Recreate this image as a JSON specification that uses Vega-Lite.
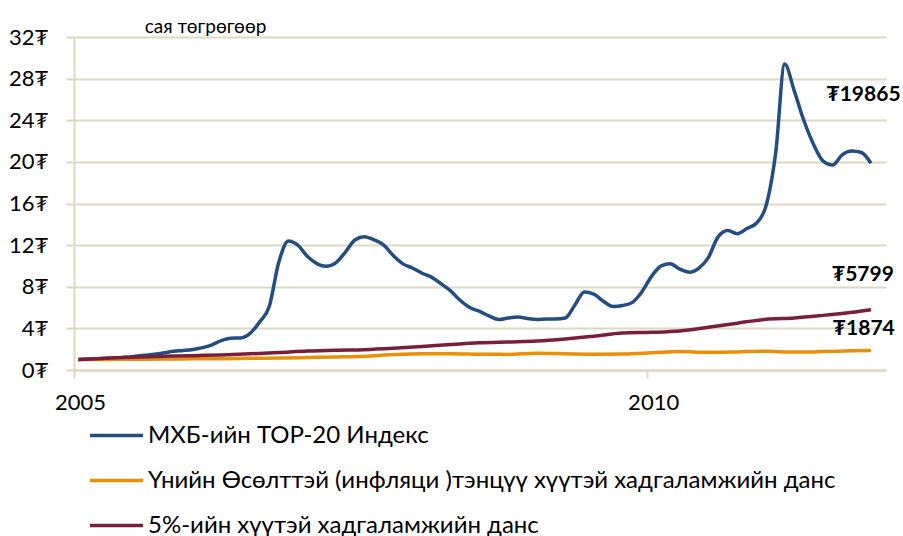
{
  "$schema": "https://vega.github.io/schema/vega-lite/v6.json",
  "width": 812,
  "height": 333,
  "autosize": {"type": "none"},
  "padding": {"left": 74, "top": 37, "right": 17, "bottom": 166},
  "background": "white",
  "config": {"view": {"stroke": null}, "font": "Lato"},
  "datasets": {
    "series": [
      {"date": "2005-01-15", "series": "МХБ-ийн ТОР-20 Индекс", "value": 1.0},
      {"date": "2005-02-15", "series": "МХБ-ийн ТОР-20 Индекс", "value": 1.05},
      {"date": "2005-03-15", "series": "МХБ-ийн ТОР-20 Индекс", "value": 1.08},
      {"date": "2005-04-15", "series": "МХБ-ийн ТОР-20 Индекс", "value": 1.12},
      {"date": "2005-05-15", "series": "МХБ-ийн ТОР-20 Индекс", "value": 1.15},
      {"date": "2005-06-15", "series": "МХБ-ийн ТОР-20 Индекс", "value": 1.22},
      {"date": "2005-07-15", "series": "МХБ-ийн ТОР-20 Индекс", "value": 1.32},
      {"date": "2005-08-15", "series": "МХБ-ийн ТОР-20 Индекс", "value": 1.42},
      {"date": "2005-09-15", "series": "МХБ-ийн ТОР-20 Индекс", "value": 1.52},
      {"date": "2005-10-15", "series": "МХБ-ийн ТОР-20 Индекс", "value": 1.65},
      {"date": "2005-11-15", "series": "МХБ-ийн ТОР-20 Индекс", "value": 1.8},
      {"date": "2005-12-15", "series": "МХБ-ийн ТОР-20 Индекс", "value": 1.88},
      {"date": "2006-01-15", "series": "МХБ-ийн ТОР-20 Индекс", "value": 1.98},
      {"date": "2006-02-15", "series": "МХБ-ийн ТОР-20 Индекс", "value": 2.15},
      {"date": "2006-03-15", "series": "МХБ-ийн ТОР-20 Индекс", "value": 2.4},
      {"date": "2006-04-15", "series": "МХБ-ийн ТОР-20 Индекс", "value": 2.82},
      {"date": "2006-05-15", "series": "МХБ-ийн ТОР-20 Индекс", "value": 3.05},
      {"date": "2006-06-15", "series": "МХБ-ийн ТОР-20 Индекс", "value": 3.08},
      {"date": "2006-07-15", "series": "МХБ-ийн ТОР-20 Индекс", "value": 3.5},
      {"date": "2006-08-15", "series": "МХБ-ийн ТОР-20 Индекс", "value": 4.6},
      {"date": "2006-09-15", "series": "МХБ-ийн ТОР-20 Индекс", "value": 6.1},
      {"date": "2006-10-15", "series": "МХБ-ийн ТОР-20 Индекс", "value": 10.3},
      {"date": "2006-11-15", "series": "МХБ-ийн ТОР-20 Индекс", "value": 12.4},
      {"date": "2006-12-15", "series": "МХБ-ийн ТОР-20 Индекс", "value": 12.0},
      {"date": "2007-01-15", "series": "МХБ-ийн ТОР-20 Индекс", "value": 10.9},
      {"date": "2007-02-15", "series": "МХБ-ийн ТОР-20 Индекс", "value": 10.2},
      {"date": "2007-03-15", "series": "МХБ-ийн ТОР-20 Индекс", "value": 9.97},
      {"date": "2007-04-15", "series": "МХБ-ийн ТОР-20 Индекс", "value": 10.3},
      {"date": "2007-05-15", "series": "МХБ-ийн ТОР-20 Индекс", "value": 11.3},
      {"date": "2007-06-15", "series": "МХБ-ийн ТОР-20 Индекс", "value": 12.5},
      {"date": "2007-07-15", "series": "МХБ-ийн ТОР-20 Индекс", "value": 12.8},
      {"date": "2007-08-15", "series": "МХБ-ийн ТОР-20 Индекс", "value": 12.5},
      {"date": "2007-09-15", "series": "МХБ-ийн ТОР-20 Индекс", "value": 12.0},
      {"date": "2007-10-15", "series": "МХБ-ийн ТОР-20 Индекс", "value": 11.0},
      {"date": "2007-11-15", "series": "МХБ-ийн ТОР-20 Индекс", "value": 10.2},
      {"date": "2007-12-15", "series": "МХБ-ийн ТОР-20 Индекс", "value": 9.8},
      {"date": "2008-01-15", "series": "МХБ-ийн ТОР-20 Индекс", "value": 9.3},
      {"date": "2008-02-15", "series": "МХБ-ийн ТОР-20 Индекс", "value": 8.9},
      {"date": "2008-03-15", "series": "МХБ-ийн ТОР-20 Индекс", "value": 8.3},
      {"date": "2008-04-15", "series": "МХБ-ийн ТОР-20 Индекс", "value": 7.6},
      {"date": "2008-05-15", "series": "МХБ-ийн ТОР-20 Индекс", "value": 6.7},
      {"date": "2008-06-15", "series": "МХБ-ийн ТОР-20 Индекс", "value": 6.0},
      {"date": "2008-07-15", "series": "МХБ-ийн ТОР-20 Индекс", "value": 5.65},
      {"date": "2008-08-15", "series": "МХБ-ийн ТОР-20 Индекс", "value": 5.2},
      {"date": "2008-09-15", "series": "МХБ-ийн ТОР-20 Индекс", "value": 4.85},
      {"date": "2008-10-15", "series": "МХБ-ийн ТОР-20 Индекс", "value": 5.0},
      {"date": "2008-11-15", "series": "МХБ-ийн ТОР-20 Индекс", "value": 5.1},
      {"date": "2008-12-15", "series": "МХБ-ийн ТОР-20 Индекс", "value": 4.95},
      {"date": "2009-01-15", "series": "МХБ-ийн ТОР-20 Индекс", "value": 4.85},
      {"date": "2009-02-15", "series": "МХБ-ийн ТОР-20 Индекс", "value": 4.9},
      {"date": "2009-03-15", "series": "МХБ-ийн ТОР-20 Индекс", "value": 4.9},
      {"date": "2009-04-15", "series": "МХБ-ийн ТОР-20 Индекс", "value": 5.0},
      {"date": "2009-05-15", "series": "МХБ-ийн ТОР-20 Индекс", "value": 6.2},
      {"date": "2009-06-15", "series": "МХБ-ийн ТОР-20 Индекс", "value": 7.5},
      {"date": "2009-07-15", "series": "МХБ-ийн ТОР-20 Индекс", "value": 7.3},
      {"date": "2009-08-15", "series": "МХБ-ийн ТОР-20 Индекс", "value": 6.6},
      {"date": "2009-09-15", "series": "МХБ-ийн ТОР-20 Индекс", "value": 6.1},
      {"date": "2009-10-15", "series": "МХБ-ийн ТОР-20 Индекс", "value": 6.2},
      {"date": "2009-11-15", "series": "МХБ-ийн ТОР-20 Индекс", "value": 6.5},
      {"date": "2009-12-15", "series": "МХБ-ийн ТОР-20 Индекс", "value": 7.5},
      {"date": "2010-01-15", "series": "МХБ-ийн ТОР-20 Индекс", "value": 9.0},
      {"date": "2010-02-15", "series": "МХБ-ийн ТОР-20 Индекс", "value": 10.0},
      {"date": "2010-03-15", "series": "МХБ-ийн ТОР-20 Индекс", "value": 10.2},
      {"date": "2010-04-15", "series": "МХБ-ийн ТОР-20 Индекс", "value": 9.7},
      {"date": "2010-05-15", "series": "МХБ-ийн ТОР-20 Индекс", "value": 9.4},
      {"date": "2010-06-15", "series": "МХБ-ийн ТОР-20 Индекс", "value": 9.8},
      {"date": "2010-07-15", "series": "МХБ-ийн ТОР-20 Индекс", "value": 10.8},
      {"date": "2010-08-15", "series": "МХБ-ийн ТОР-20 Индекс", "value": 12.8},
      {"date": "2010-09-15", "series": "МХБ-ийн ТОР-20 Индекс", "value": 13.4},
      {"date": "2010-10-15", "series": "МХБ-ийн ТОР-20 Индекс", "value": 13.1},
      {"date": "2010-11-15", "series": "МХБ-ийн ТОР-20 Индекс", "value": 13.6},
      {"date": "2010-12-15", "series": "МХБ-ийн ТОР-20 Индекс", "value": 14.1},
      {"date": "2011-01-15", "series": "МХБ-ийн ТОР-20 Индекс", "value": 15.8},
      {"date": "2011-02-15", "series": "МХБ-ийн ТОР-20 Индекс", "value": 21.0},
      {"date": "2011-03-15", "series": "МХБ-ийн ТОР-20 Индекс", "value": 29.4},
      {"date": "2011-04-15", "series": "МХБ-ийн ТОР-20 Индекс", "value": 26.8},
      {"date": "2011-05-15", "series": "МХБ-ийн ТОР-20 Индекс", "value": 24.0},
      {"date": "2011-06-15", "series": "МХБ-ийн ТОР-20 Индекс", "value": 21.7},
      {"date": "2011-07-15", "series": "МХБ-ийн ТОР-20 Индекс", "value": 20.1},
      {"date": "2011-08-15", "series": "МХБ-ийн ТОР-20 Индекс", "value": 19.7},
      {"date": "2011-09-15", "series": "МХБ-ийн ТОР-20 Индекс", "value": 20.7},
      {"date": "2011-10-15", "series": "МХБ-ийн ТОР-20 Индекс", "value": 21.05},
      {"date": "2011-11-15", "series": "МХБ-ийн ТОР-20 Индекс", "value": 20.9},
      {"date": "2011-12-15", "series": "МХБ-ийн ТОР-20 Индекс", "value": 19.865},

      {"date": "2005-01-15", "series": "Үнийн Өсөлттэй (инфляци )тэнцүү хүүтэй хадгаламжийн данс", "value": 1.0},
      {"date": "2005-04-15", "series": "Үнийн Өсөлттэй (инфляци )тэнцүү хүүтэй хадгаламжийн данс", "value": 1.02},
      {"date": "2005-07-15", "series": "Үнийн Өсөлттэй (инфляци )тэнцүү хүүтэй хадгаламжийн данс", "value": 1.03},
      {"date": "2005-10-15", "series": "Үнийн Өсөлттэй (инфляци )тэнцүү хүүтэй хадгаламжийн данс", "value": 1.05},
      {"date": "2006-01-15", "series": "Үнийн Өсөлттэй (инфляци )тэнцүү хүүтэй хадгаламжийн данс", "value": 1.07},
      {"date": "2006-04-15", "series": "Үнийн Өсөлттэй (инфляци )тэнцүү хүүтэй хадгаламжийн данс", "value": 1.09},
      {"date": "2006-07-15", "series": "Үнийн Өсөлттэй (инфляци )тэнцүү хүүтэй хадгаламжийн данс", "value": 1.12},
      {"date": "2006-10-15", "series": "Үнийн Өсөлттэй (инфляци )тэнцүү хүүтэй хадгаламжийн данс", "value": 1.15},
      {"date": "2007-01-15", "series": "Үнийн Өсөлттэй (инфляци )тэнцүү хүүтэй хадгаламжийн данс", "value": 1.2},
      {"date": "2007-04-15", "series": "Үнийн Өсөлттэй (инфляци )тэнцүү хүүтэй хадгаламжийн данс", "value": 1.25},
      {"date": "2007-07-15", "series": "Үнийн Өсөлттэй (инфляци )тэнцүү хүүтэй хадгаламжийн данс", "value": 1.32},
      {"date": "2007-10-15", "series": "Үнийн Өсөлттэй (инфляци )тэнцүү хүүтэй хадгаламжийн данс", "value": 1.48},
      {"date": "2008-01-15", "series": "Үнийн Өсөлттэй (инфляци )тэнцүү хүүтэй хадгаламжийн данс", "value": 1.57},
      {"date": "2008-04-15", "series": "Үнийн Өсөлттэй (инфляци )тэнцүү хүүтэй хадгаламжийн данс", "value": 1.57},
      {"date": "2008-07-15", "series": "Үнийн Өсөлттэй (инфляци )тэнцүү хүүтэй хадгаламжийн данс", "value": 1.52},
      {"date": "2008-10-15", "series": "Үнийн Өсөлттэй (инфляци )тэнцүү хүүтэй хадгаламжийн данс", "value": 1.5},
      {"date": "2009-01-15", "series": "Үнийн Өсөлттэй (инфляци )тэнцүү хүүтэй хадгаламжийн данс", "value": 1.6},
      {"date": "2009-04-15", "series": "Үнийн Өсөлттэй (инфляци )тэнцүү хүүтэй хадгаламжийн данс", "value": 1.56},
      {"date": "2009-07-15", "series": "Үнийн Өсөлттэй (инфляци )тэнцүү хүүтэй хадгаламжийн данс", "value": 1.52},
      {"date": "2009-10-15", "series": "Үнийн Өсөлттэй (инфляци )тэнцүү хүүтэй хадгаламжийн данс", "value": 1.54},
      {"date": "2010-01-15", "series": "Үнийн Өсөлттэй (инфляци )тэнцүү хүүтэй хадгаламжийн данс", "value": 1.65},
      {"date": "2010-04-15", "series": "Үнийн Өсөлттэй (инфляци )тэнцүү хүүтэй хадгаламжийн данс", "value": 1.78},
      {"date": "2010-07-15", "series": "Үнийн Өсөлттэй (инфляци )тэнцүү хүүтэй хадгаламжийн данс", "value": 1.7},
      {"date": "2010-10-15", "series": "Үнийн Өсөлттэй (инфляци )тэнцүү хүүтэй хадгаламжийн данс", "value": 1.74},
      {"date": "2011-01-15", "series": "Үнийн Өсөлттэй (инфляци )тэнцүү хүүтэй хадгаламжийн данс", "value": 1.8},
      {"date": "2011-04-15", "series": "Үнийн Өсөлттэй (инфляци )тэнцүү хүүтэй хадгаламжийн данс", "value": 1.73},
      {"date": "2011-07-15", "series": "Үнийн Өсөлттэй (инфляци )тэнцүү хүүтэй хадгаламжийн данс", "value": 1.77},
      {"date": "2011-10-15", "series": "Үнийн Өсөлттэй (инфляци )тэнцүү хүүтэй хадгаламжийн данс", "value": 1.84},
      {"date": "2011-12-15", "series": "Үнийн Өсөлттэй (инфляци )тэнцүү хүүтэй хадгаламжийн данс", "value": 1.874},

      {"date": "2005-01-15", "series": "5%-ийн хүүтэй хадгаламжийн данс", "value": 1.0},
      {"date": "2005-04-15", "series": "5%-ийн хүүтэй хадгаламжийн данс", "value": 1.12},
      {"date": "2005-07-15", "series": "5%-ийн хүүтэй хадгаламжийн данс", "value": 1.25},
      {"date": "2005-10-15", "series": "5%-ийн хүүтэй хадгаламжийн данс", "value": 1.32},
      {"date": "2006-01-15", "series": "5%-ийн хүүтэй хадгаламжийн данс", "value": 1.38},
      {"date": "2006-04-15", "series": "5%-ийн хүүтэй хадгаламжийн данс", "value": 1.45},
      {"date": "2006-07-15", "series": "5%-ийн хүүтэй хадгаламжийн данс", "value": 1.55},
      {"date": "2006-10-15", "series": "5%-ийн хүүтэй хадгаламжийн данс", "value": 1.68},
      {"date": "2007-01-15", "series": "5%-ийн хүүтэй хадгаламжийн данс", "value": 1.82},
      {"date": "2007-04-15", "series": "5%-ийн хүүтэй хадгаламжийн данс", "value": 1.9},
      {"date": "2007-07-15", "series": "5%-ийн хүүтэй хадгаламжийн данс", "value": 1.95},
      {"date": "2007-10-15", "series": "5%-ийн хүүтэй хадгаламжийн данс", "value": 2.08},
      {"date": "2008-01-15", "series": "5%-ийн хүүтэй хадгаламжийн данс", "value": 2.25},
      {"date": "2008-04-15", "series": "5%-ийн хүүтэй хадгаламжийн данс", "value": 2.45},
      {"date": "2008-07-15", "series": "5%-ийн хүүтэй хадгаламжийн данс", "value": 2.62},
      {"date": "2008-10-15", "series": "5%-ийн хүүтэй хадгаламжийн данс", "value": 2.7},
      {"date": "2009-01-15", "series": "5%-ийн хүүтэй хадгаламжийн данс", "value": 2.78},
      {"date": "2009-04-15", "series": "5%-ийн хүүтэй хадгаламжийн данс", "value": 2.98},
      {"date": "2009-07-15", "series": "5%-ийн хүүтэй хадгаламжийн данс", "value": 3.25},
      {"date": "2009-10-15", "series": "5%-ийн хүүтэй хадгаламжийн данс", "value": 3.55},
      {"date": "2010-01-15", "series": "5%-ийн хүүтэй хадгаламжийн данс", "value": 3.62},
      {"date": "2010-04-15", "series": "5%-ийн хүүтэй хадгаламжийн данс", "value": 3.75},
      {"date": "2010-07-15", "series": "5%-ийн хүүтэй хадгаламжийн данс", "value": 4.1},
      {"date": "2010-10-15", "series": "5%-ийн хүүтэй хадгаламжийн данс", "value": 4.5},
      {"date": "2011-01-15", "series": "5%-ийн хүүтэй хадгаламжийн данс", "value": 4.88},
      {"date": "2011-04-15", "series": "5%-ийн хүүтэй хадгаламжийн данс", "value": 5.0},
      {"date": "2011-07-15", "series": "5%-ийн хүүтэй хадгаламжийн данс", "value": 5.25},
      {"date": "2011-10-15", "series": "5%-ийн хүүтэй хадгаламжийн данс", "value": 5.55},
      {"date": "2011-12-15", "series": "5%-ийн хүүтэй хадгаламжийн данс", "value": 5.799}
    ],
    "labels": [
      {"date": "2011-11-21", "value": 26.4, "label": "₮19865"},
      {"date": "2011-11-19", "value": 9.09, "label": "₮5799"},
      {"date": "2011-11-22", "value": 3.98, "label": "₮1874"}
    ]
  },
  "layer": [
    {
      "data": {"name": "series"},
      "mark": {"type": "line", "strokeWidth": 3.5, "interpolate": "monotone"},
      "encoding": {
        "x": {
          "field": "date", "type": "temporal",
          "scale": {"domain": ["2005-01-01", "2012-02-01"]},
          "axis": {
            "title": null,
            "values": [{"year": 2005, "month": 1, "date": 1}, {"year": 2010, "month": 1, "date": 1}],
            "format": "%Y",
            "grid": false,
            "labelFlush": false,
            "labelOffset": 6,
            "labelFontSize": 22,
            "labelColor": "#000000",
            "labelPadding": 14,
            "domainColor": "#DDD8C2",
            "domainWidth": 2,
            "tickColor": "#DDD8C2",
            "tickWidth": 2,
            "tickSize": 8
          }
        },
        "y": {
          "field": "value", "type": "quantitative",
          "scale": {"domain": [0, 32], "nice": false},
          "axis": {
            "values": [0, 4, 8, 12, 16, 20, 24, 28, 32],
            "labelExpr": "datum.value + '₮'",
            "grid": true,
            "gridColor": "#DDD8C2",
            "gridWidth": 2,
            "domainColor": "#DDD8C2",
            "domainWidth": 2,
            "tickColor": "#DDD8C2",
            "tickWidth": 2,
            "tickSize": 8,
            "labelFontSize": 22,
            "labelColor": "#000000",
            "labelPadding": 18,
            "title": "сая төгрөгөөр",
            "titleAngle": 0,
            "titleX": 131,
            "titleY": -11,
            "titleAlign": "center",
            "titleBaseline": "middle",
            "titleFontSize": 19,
            "titleFontWeight": "normal",
            "titleColor": "#000000"
          }
        },
        "color": {
          "field": "series", "type": "nominal",
          "scale": {
            "domain": ["МХБ-ийн ТОР-20 Индекс", "Үнийн Өсөлттэй (инфляци )тэнцүү хүүтэй хадгаламжийн данс", "5%-ийн хүүтэй хадгаламжийн данс"],
            "range": ["#254D80", "#E8900A", "#7A1E3E"]
          },
          "legend": {
            "orient": "none",
            "legendX": 30,
            "legendY": 386,
            "direction": "vertical",
            "title": null,
            "symbolType": "M-2.5,0L2.5,0",
            "symbolSize": 450,
            "symbolStrokeWidth": 3.5,
            "labelFontSize": 24,
            "labelColor": "#000000",
            "labelOffset": 19,
            "labelLimit": 900,
            "rowPadding": 20,
            "padding": 0
          }
        }
      }
    },
    {
      "data": {"name": "labels"},
      "mark": {"type": "text", "fontSize": 21, "fontWeight": "bold", "align": "center", "baseline": "middle", "color": "#000000"},
      "encoding": {
        "x": {"field": "date", "type": "temporal"},
        "y": {"field": "value", "type": "quantitative"},
        "text": {"field": "label"}
      }
    }
  ]
}
